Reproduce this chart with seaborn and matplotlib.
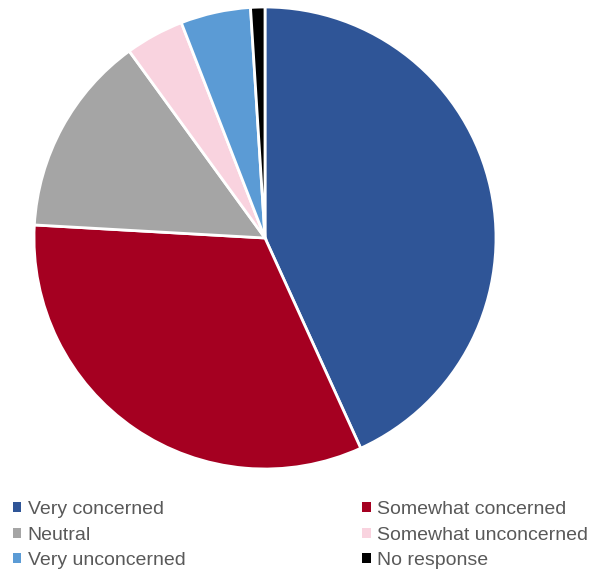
import matplotlib
matplotlib.use("Agg")
import matplotlib.pyplot as plt
import seaborn as sns
from matplotlib.patches import Patch

categories = ["Very concerned", "Somewhat concerned", "Neutral",
              "Somewhat unconcerned", "Very unconcerned", "No response"]
values = [43.2, 32.7, 14.1, 4.1, 4.9, 1.0]
colors = ["#2F5597", "#A50021", "#A5A5A5", "#F9D3DF", "#5B9BD5", "#000000"]

sns.set_theme(style="white")
plt.rcParams['font.family'] = ['Liberation Sans', 'DejaVu Sans']

W, H = 596, 576
fig = plt.figure(figsize=(W / 100, H / 100), dpi=100)
cx, cy, r = 265, 238, 231
ax = fig.add_axes([(cx - r) / W, (H - cy - r) / H, 2 * r / W, 2 * r / H])
wedges, _ = ax.pie(values, colors=colors, startangle=90, counterclock=False,
                   radius=1, wedgeprops=dict(edgecolor="white", linewidth=2))
ax.set_xlim(-1.0, 1.0)
ax.set_ylim(-1.0, 1.0)
ax.set_aspect("equal")
ax.axis("off")

order = [0, 2, 4, 1, 3, 5]
handles = [Patch(facecolor=colors[i], edgecolor="none") for i in order]
labels = [categories[i] for i in order]
leg = fig.legend(handles, labels, ncol=2, loc="upper left",
                 bbox_to_anchor=(7 / W, 1 - 495 / H), frameon=False,
                 fontsize=14.0, handlelength=0.42, handleheight=0.42,
                 handletextpad=0.35, columnspacing=9.1, labelspacing=0.45,
                 borderaxespad=0, borderpad=0.3)
for t in leg.get_texts():
    t.set_color("#595959")

fig.savefig("out.png", dpi=100)
